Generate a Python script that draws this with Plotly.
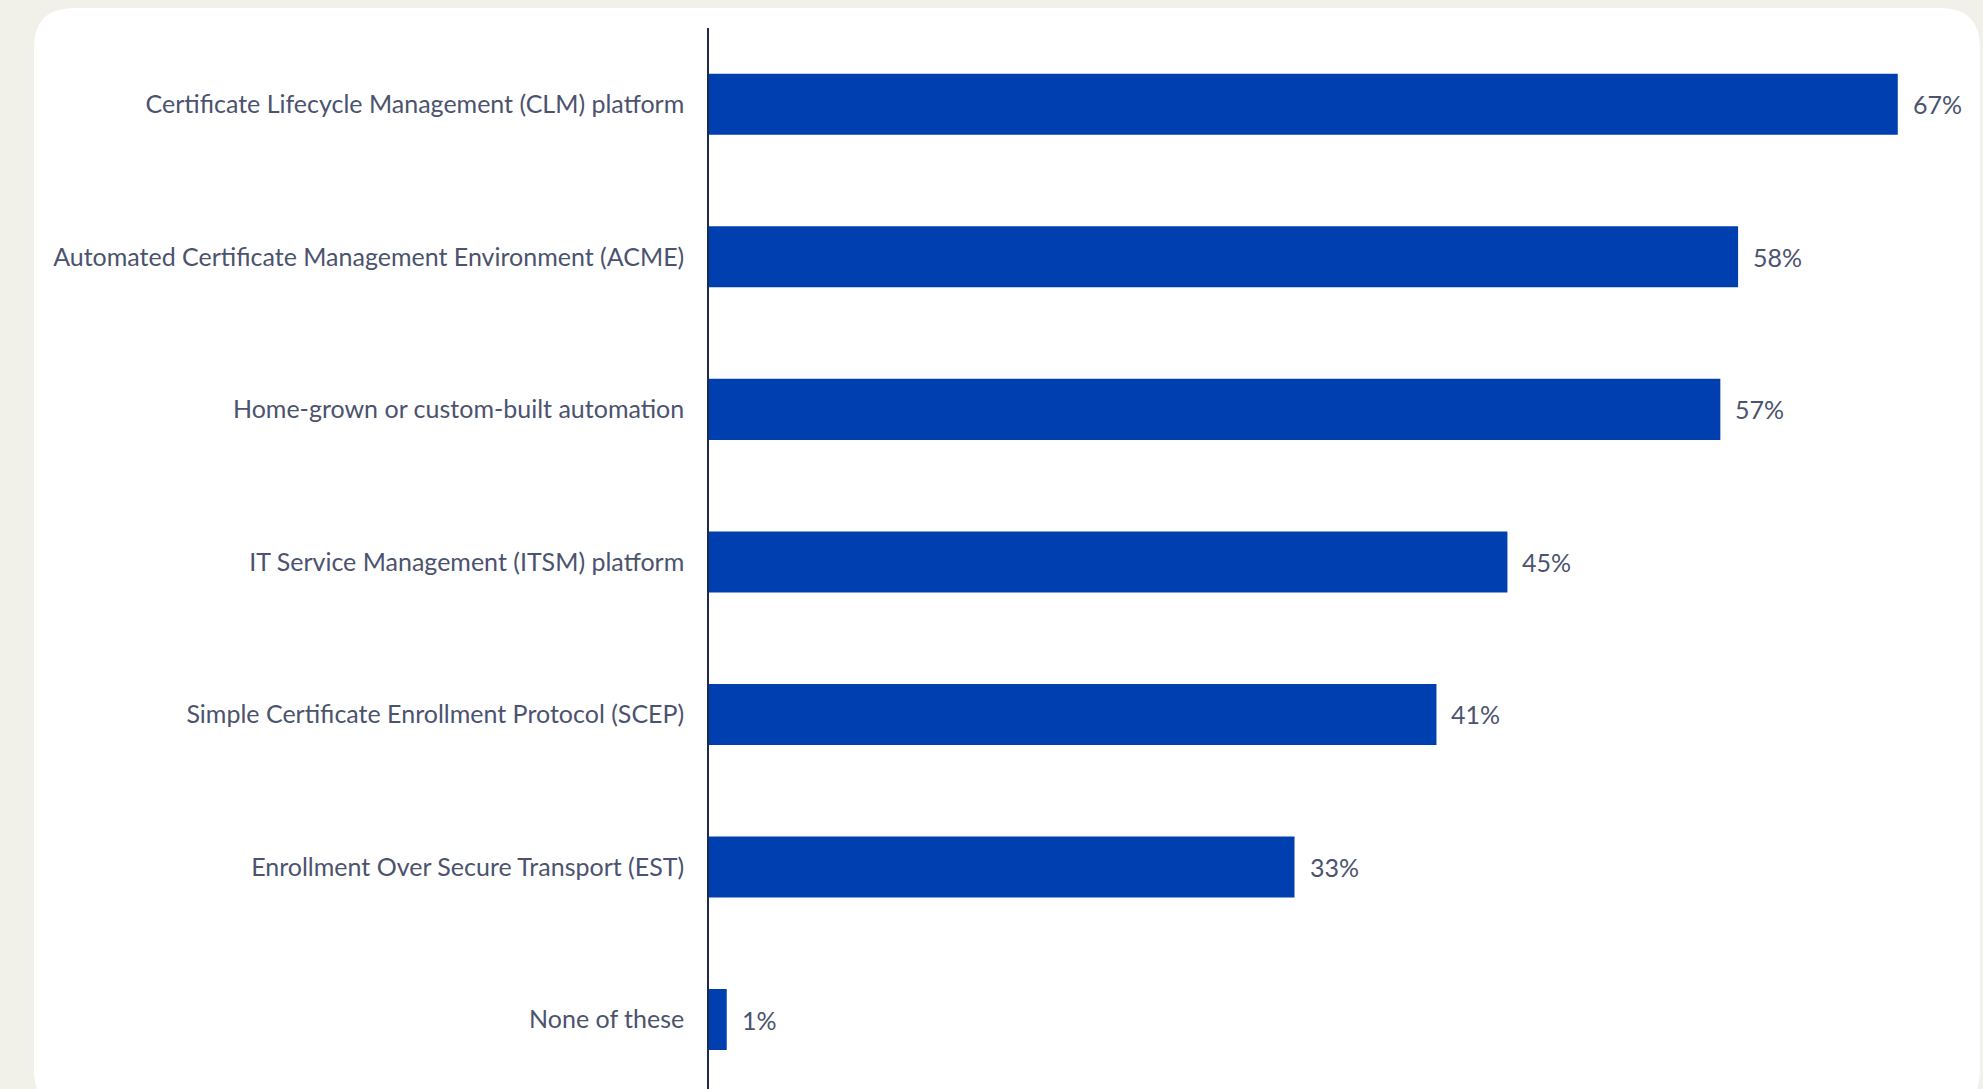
import plotly.graph_objects as go

# Survey responses: share of organisations using each automation approach
categories = [
    "Certificate Lifecycle Management (CLM) platform",
    "Automated Certificate Management Environment (ACME)",
    "Home-grown or custom-built automation",
    "IT Service Management (ITSM) platform",
    "Simple Certificate Enrollment Protocol (SCEP)",
    "Enrollment Over Secure Transport (EST)",
    "None of these",
]
values = [67, 58, 57, 45, 41, 33, 1]
value_labels = ["67%", "58%", "57%", "45%", "41%", "33%", "1%"]

W, H = 1983, 1089
M_L, M_R, M_T, M_B = 709, 32, 28, 0
PAGE_BG = "#f1f0e9"
BAR_COLOR = "#003fb0"
TEXT_COLOR = "#4b536e"
AXIS_COLOR = "#1d2a4d"
FONT = "Lato, 'Open Sans', sans-serif"
FONT_SIZE = 25

X_MAX = 70
Y_RANGE = [6.455, -0.5]

fig = go.Figure(
    go.Bar(
        x=values,
        y=categories,
        orientation="h",
        width=0.40,
        marker=dict(color=BAR_COLOR, line=dict(width=0)),
        hoverinfo="skip",
    )
)

# value labels placed just right of each bar end
for cat, v, lab in zip(categories, values, value_labels):
    fig.add_annotation(
        x=v, y=cat, text=lab, showarrow=False,
        xanchor="left", yanchor="middle", xshift=13,
        font=dict(family=FONT, size=FONT_SIZE, color=TEXT_COLOR),
    )

# white rounded card behind the chart, expressed in paper coordinates
pw = W - M_L - M_R
ph = H - M_T - M_B
def px_x(x):
    return (x - M_L) / pw
def px_y(y):
    return 1 - (y - M_T) / ph

cx0, cx1, cy0, cy1, r = 34, 1980, 8, 1110, 40
x0, x1 = px_x(cx0), px_x(cx1)
y0, y1 = px_y(cy0), px_y(cy1)
rx, ry = r / pw, r / ph
path = (
    f"M {x0 + rx},{y0} L {x1 - rx},{y0} Q {x1},{y0} {x1},{y0 - ry} "
    f"L {x1},{y1 + ry} Q {x1},{y1} {x1 - rx},{y1} "
    f"L {x0 + rx},{y1} Q {x0},{y1} {x0},{y1 + ry} "
    f"L {x0},{y0 - ry} Q {x0},{y0} {x0 + rx},{y0} Z"
)
fig.add_shape(
    type="path", path=path, xref="paper", yref="paper",
    fillcolor="white", line=dict(width=0), layer="below",
)

fig.update_layout(
    width=W, height=H,
    margin=dict(l=M_L, r=M_R, t=M_T, b=M_B),
    paper_bgcolor=PAGE_BG,
    plot_bgcolor="rgba(0,0,0,0)",
    showlegend=False,
    font=dict(family=FONT, color=TEXT_COLOR),
    xaxis=dict(
        range=[0, X_MAX], showgrid=False, zeroline=False,
        showticklabels=False, showline=False, fixedrange=True,
    ),
    yaxis=dict(
        categoryorder="array", categoryarray=categories,
        range=Y_RANGE, showgrid=False, zeroline=False,
        showline=True, linecolor=AXIS_COLOR, linewidth=1.5,
        ticks="", ticklabelstandoff=18,
        tickfont=dict(family=FONT, size=FONT_SIZE, color=TEXT_COLOR),
        fixedrange=True,
    ),
)

fig.write_html("out.html")
